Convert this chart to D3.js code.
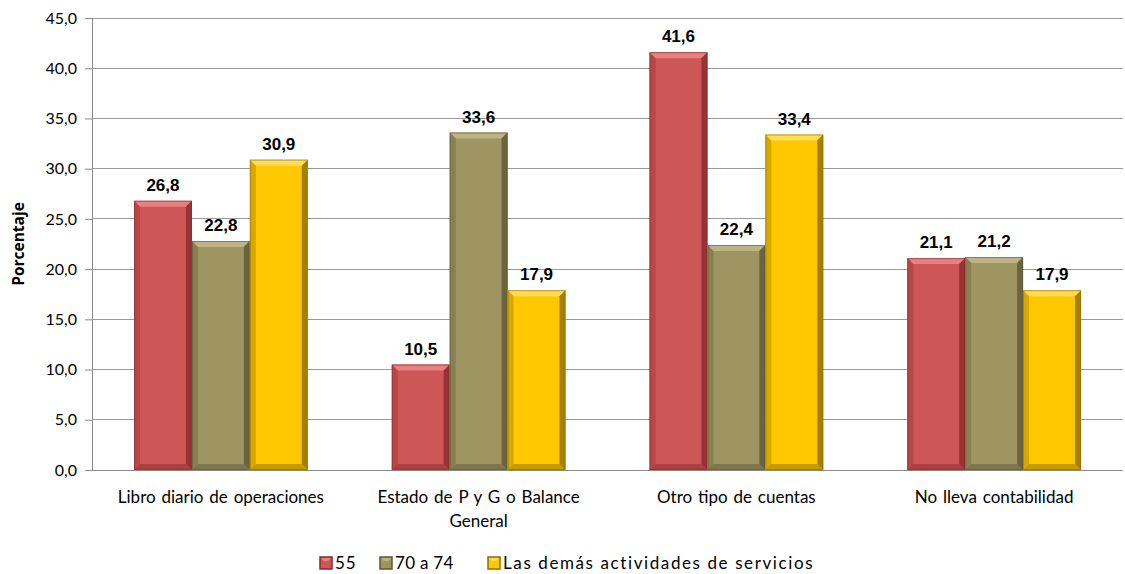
<!DOCTYPE html>
<html><head><meta charset="utf-8">
<script src="https://cdn.jsdelivr.net/npm/d3@7"></script>
<style>body{margin:0;background:#fff}svg{display:block;font-family:Lato,"Open Sans",sans-serif}</style>
</head><body><svg id="c" width="1125" height="574"></svg>
<script>
const categories = [["Libro diario de operaciones"],["Estado de P y G o Balance","General"],["Otro tipo de cuentas"],["No lleva contabilidad"]];
const seriesNames = ["55","70 a 74","Las demás actividades de servicios"];
const s55 = [26.8, 10.5, 41.6, 21.1];
const s70 = [22.8, 33.6, 22.4, 21.2];
const sDem = [30.9, 17.9, 33.4, 17.9];
const yTicks = [0,5,10,15,20,25,30,35,40,45];
const colors = ["#CD5656","#9E9563","#FFC800"];
const darks = ["#8A2A2A","#5E5835","#8E6E00"];
const lights = ["#E88080","#BDB485","#FFDD55"];

const series = [s55, s70, sDem];
const svg = d3.select("#c");
const m = {l:92, r:1123, t:18, b:470};
const x0 = d3.scaleBand().domain(d3.range(categories.length)).range([m.l, m.r]).paddingInner(0.326).paddingOuter(0.163);
const x1 = d3.scaleBand().domain(d3.range(series.length)).range([0, x0.bandwidth()]);
const y = d3.scaleLinear().domain([0,45]).range([m.b, m.t]);
const fmt = v => d3.format(".1f")(v).replace(".", ",");

// gridlines
svg.append("g").selectAll("line").data(yTicks.slice(1)).join("line")
  .attr("x1", m.l).attr("x2", m.r).attr("y1", d=>y(d)).attr("y2", d=>y(d))
  .attr("stroke", "#9a9a9a").attr("stroke-width", 1).attr("shape-rendering","crispEdges");

// y axis
const ya = svg.append("g").attr("transform", `translate(${m.l},0)`)
  .call(d3.axisLeft(y).tickValues(yTicks).tickFormat(fmt).tickSize(7).tickPadding(8));
ya.select(".domain").attr("stroke", "#8a8a8a");
ya.selectAll(".tick line").attr("stroke", "#8a8a8a");
ya.selectAll("text").attr("font-size", 16).attr("fill", "#000").attr("font-family","Lato,sans-serif");

// x baseline
svg.append("line").attr("x1", m.l).attr("x2", m.r).attr("y1", y(0)).attr("y2", y(0))
  .attr("stroke", "#8a8a8a").attr("shape-rendering","crispEdges");

// bars
const bev = 6;
series.forEach((s, si) => {
  const g = svg.append("g");
  s.forEach((v, ci) => {
    const bx = x0(ci) + x1(si), bw = x1.bandwidth(), by = y(v), bh = y(0) - y(v);
    const bg = g.append("g");
    bg.append("rect").attr("x", bx).attr("y", by).attr("width", bw).attr("height", bh).attr("fill", colors[si]);
    bg.append("polygon").attr("points", [[bx,by],[bx+bw,by],[bx+bw-bev,by+bev],[bx+bev,by+bev]].join(" "))
      .attr("fill", lights[si]);
    bg.append("polygon").attr("points", [[bx+bw,by],[bx+bw,by+bh],[bx+bw-bev,by+bh-bev],[bx+bw-bev,by+bev]].join(" "))
      .attr("fill", darks[si]).attr("opacity", 0.8);
    bg.append("polygon").attr("points", [[bx,by],[bx+bev,by+bev],[bx+bev,by+bh-bev],[bx,by+bh]].join(" "))
      .attr("fill", darks[si]).attr("opacity", 0.35);
    bg.append("polygon").attr("points", [[bx,by+bh],[bx+bev,by+bh-bev],[bx+bw-bev,by+bh-bev],[bx+bw,by+bh]].join(" "))
      .attr("fill", darks[si]).attr("opacity", 0.5);
    bg.append("rect").attr("x", bx+0.5).attr("y", by+0.5).attr("width", bw-1).attr("height", bh-1)
      .attr("fill", "none").attr("stroke", darks[si]).attr("stroke-opacity", 0.6);
    svg.append("text").attr("x", bx + bw/2).attr("y", by - 10).attr("text-anchor", "middle")
      .attr("font-size", 17).attr("font-weight", "bold").attr("font-family","'Liberation Sans',Arial,sans-serif").text(fmt(v));
  });
});

// category labels
categories.forEach((lines, ci) => {
  const t = svg.append("text").attr("x", x0(ci) + x0.bandwidth()/2).attr("y", 503)
    .attr("text-anchor", "middle").attr("font-size", 17).attr("word-spacing", 1.5);
  lines.forEach((l, li) => t.append("tspan").attr("x", x0(ci) + x0.bandwidth()/2).attr("dy", li ? 24 : 0).text(l));
});

// y title
svg.append("text").attr("transform", "translate(24,244) rotate(-90)").attr("text-anchor", "middle")
  .attr("font-size", 15.5).attr("font-weight", "bold").attr("font-family","'Open Sans',sans-serif").text("Porcentaje");

// legend
const legX = [320, 380, 488];
const legSpacing = [0.8, 0.3, 1.6];
seriesNames.forEach((n, i) => {
  const g = svg.append("g").attr("transform", `translate(${legX[i]},557)`);
  g.append("rect").attr("width", 12).attr("height", 12).attr("fill", colors[i]).attr("stroke", darks[i]).attr("stroke-width",1.5);
  g.append("polygon").attr("points","1,1 11,1 8,4 4,4").attr("fill", lights[i]);
  g.append("text").attr("x", 15).attr("y", 12).attr("font-size", 17).attr("letter-spacing", legSpacing[i]).text(n);
});
</script></body></html>
